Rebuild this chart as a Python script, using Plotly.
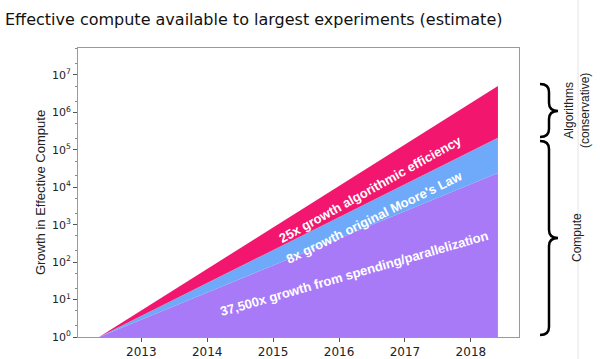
import plotly.graph_objects as go

# ---- data ----
years = [2012.36, 2018.41]
spending = [1, 2.4e4]          # 37,500x growth from spending/parallelization
moores = [1, 2.1e5]            # + 8x growth original Moore's Law
algorithms = [1, 5.1e6]        # + 25x growth algorithmic efficiency
baseline = [1, 1]
x_ticks = [2013, 2014, 2015, 2016, 2017, 2018]
y_ticks = [1, 10, 100, 1e3, 1e4, 1e5, 1e6, 1e7]
y_ticktext = ["10<sup>%d</sup>" % i for i in range(8)]

W, H = 600, 359
L, R, T, B = 78, 519, 48, 337

def px(x):
    return (x - L) / (R - L)

def py(y):
    return (B - y) / (B - T)

fig = go.Figure()
fig.add_trace(go.Scatter(x=years, y=baseline, mode="lines", line=dict(width=0),
                         showlegend=False, hoverinfo="skip"))
fig.add_trace(go.Scatter(x=years, y=spending, mode="lines", line=dict(width=0),
                         fill="tonexty", fillcolor="#a87af8", showlegend=False))
fig.add_trace(go.Scatter(x=years, y=moores, mode="lines", line=dict(width=0),
                         fill="tonexty", fillcolor="#6eaaf9", showlegend=False))
fig.add_trace(go.Scatter(x=years, y=algorithms, mode="lines", line=dict(width=0),
                         fill="tonexty", fillcolor="#f2166e", showlegend=False))

def brace(x0, w, y1, y2, ym, r=8):
    xm = x0 + w / 2
    xt = x0 + w
    pts = [
        ("M", x0, y1), ("Q", xm, y1, xm, y1 + r), ("L", xm, ym - r),
        ("Q", xm, ym, xt, ym), ("Q", xm, ym, xm, ym + r), ("L", xm, y2 - r),
        ("Q", xm, y2, x0, y2),
    ]
    s = ""
    for p in pts:
        cmd = p[0]
        coords = p[1:]
        parts = []
        for i in range(0, len(coords), 2):
            parts.append("%.5f,%.5f" % (px(coords[i]), py(coords[i + 1])))
        s += cmd + " " + " ".join(parts) + " "
    return s

shapes = [
    dict(type="path", xref="paper", yref="paper", path=brace(540, 18, 84, 137, 111),
         line=dict(color="black", width=2.5)),
    dict(type="path", xref="paper", yref="paper", path=brace(540, 18, 141, 335, 238),
         line=dict(color="black", width=2.5)),
    dict(type="line", xref="paper", yref="paper", x0=px(578), x1=px(578), y0=py(0), y1=py(359),
         line=dict(color="#e4e4e4", width=1)),
]

ann_font = dict(family="Liberation Sans, Arial", size=13, color="white")
side_font = dict(family="Liberation Sans, Arial", size=12, color="#222")

def ann(text, x, y, angle, font):
    return dict(text=text, x=px(x), y=py(y), xref="paper", yref="paper",
                xanchor="center", yanchor="middle", showarrow=False,
                textangle=angle, font=font)

annotations = [
    ann("<b>25x growth algorithmic efficiency</b>", 370, 189, -29, ann_font),
    ann("<b>8x growth original Moore's Law</b>", 374, 217, -26, ann_font),
    ann("<b>37,500x growth from spending/parallelization</b>", 354, 273, -16, ann_font),
    ann("Algorithms<br>(conservative)", 577, 111, -90, side_font),
    ann("Compute", 577, 238, -90, side_font),
]

fig.update_layout(
    width=W, height=H,
    margin=dict(l=L, r=W - R, t=T, b=H - B, autoexpand=False),
    paper_bgcolor="white", plot_bgcolor="white",
    title=dict(text="Effective compute available to largest experiments (estimate)",
               x=5 / W, xanchor="left", xref="container", y=1 - 19 / H, yanchor="middle",
               pad=dict(l=0, r=0, t=0, b=0), automargin=False,
               font=dict(family="DejaVu Sans", size=16, color="#111")),
    shapes=shapes,
    annotations=annotations,
    xaxis=dict(range=[2012.04, 2018.73], tickvals=x_ticks, ticks="outside", ticklen=4,
               showgrid=False, zeroline=False, showline=True, mirror=True, automargin=False,
               linecolor="#999", linewidth=1, tickcolor="#555",
               tickfont=dict(family="DejaVu Sans", size=12, color="#222")),
    yaxis=dict(type="log", range=[0, 7.72], tickvals=y_ticks, ticktext=y_ticktext,
               ticks="outside", ticklen=4, showgrid=False, zeroline=False, automargin=False,
               showline=True, mirror=True, linecolor="#999", linewidth=1, tickcolor="#555",
               minor=dict(ticks="outside", ticklen=2, tickcolor="#888", showgrid=False),
               tickfont=dict(family="DejaVu Sans", size=11, color="#222"),
               title=dict(text="Growth in Effective Compute", standoff=3,
                          font=dict(family="Liberation Sans, Arial", size=13, color="#222"))),
)

fig.write_html("out.html", config={"displayModeBar": False},
               post_script="document.body.style.margin='0';")
